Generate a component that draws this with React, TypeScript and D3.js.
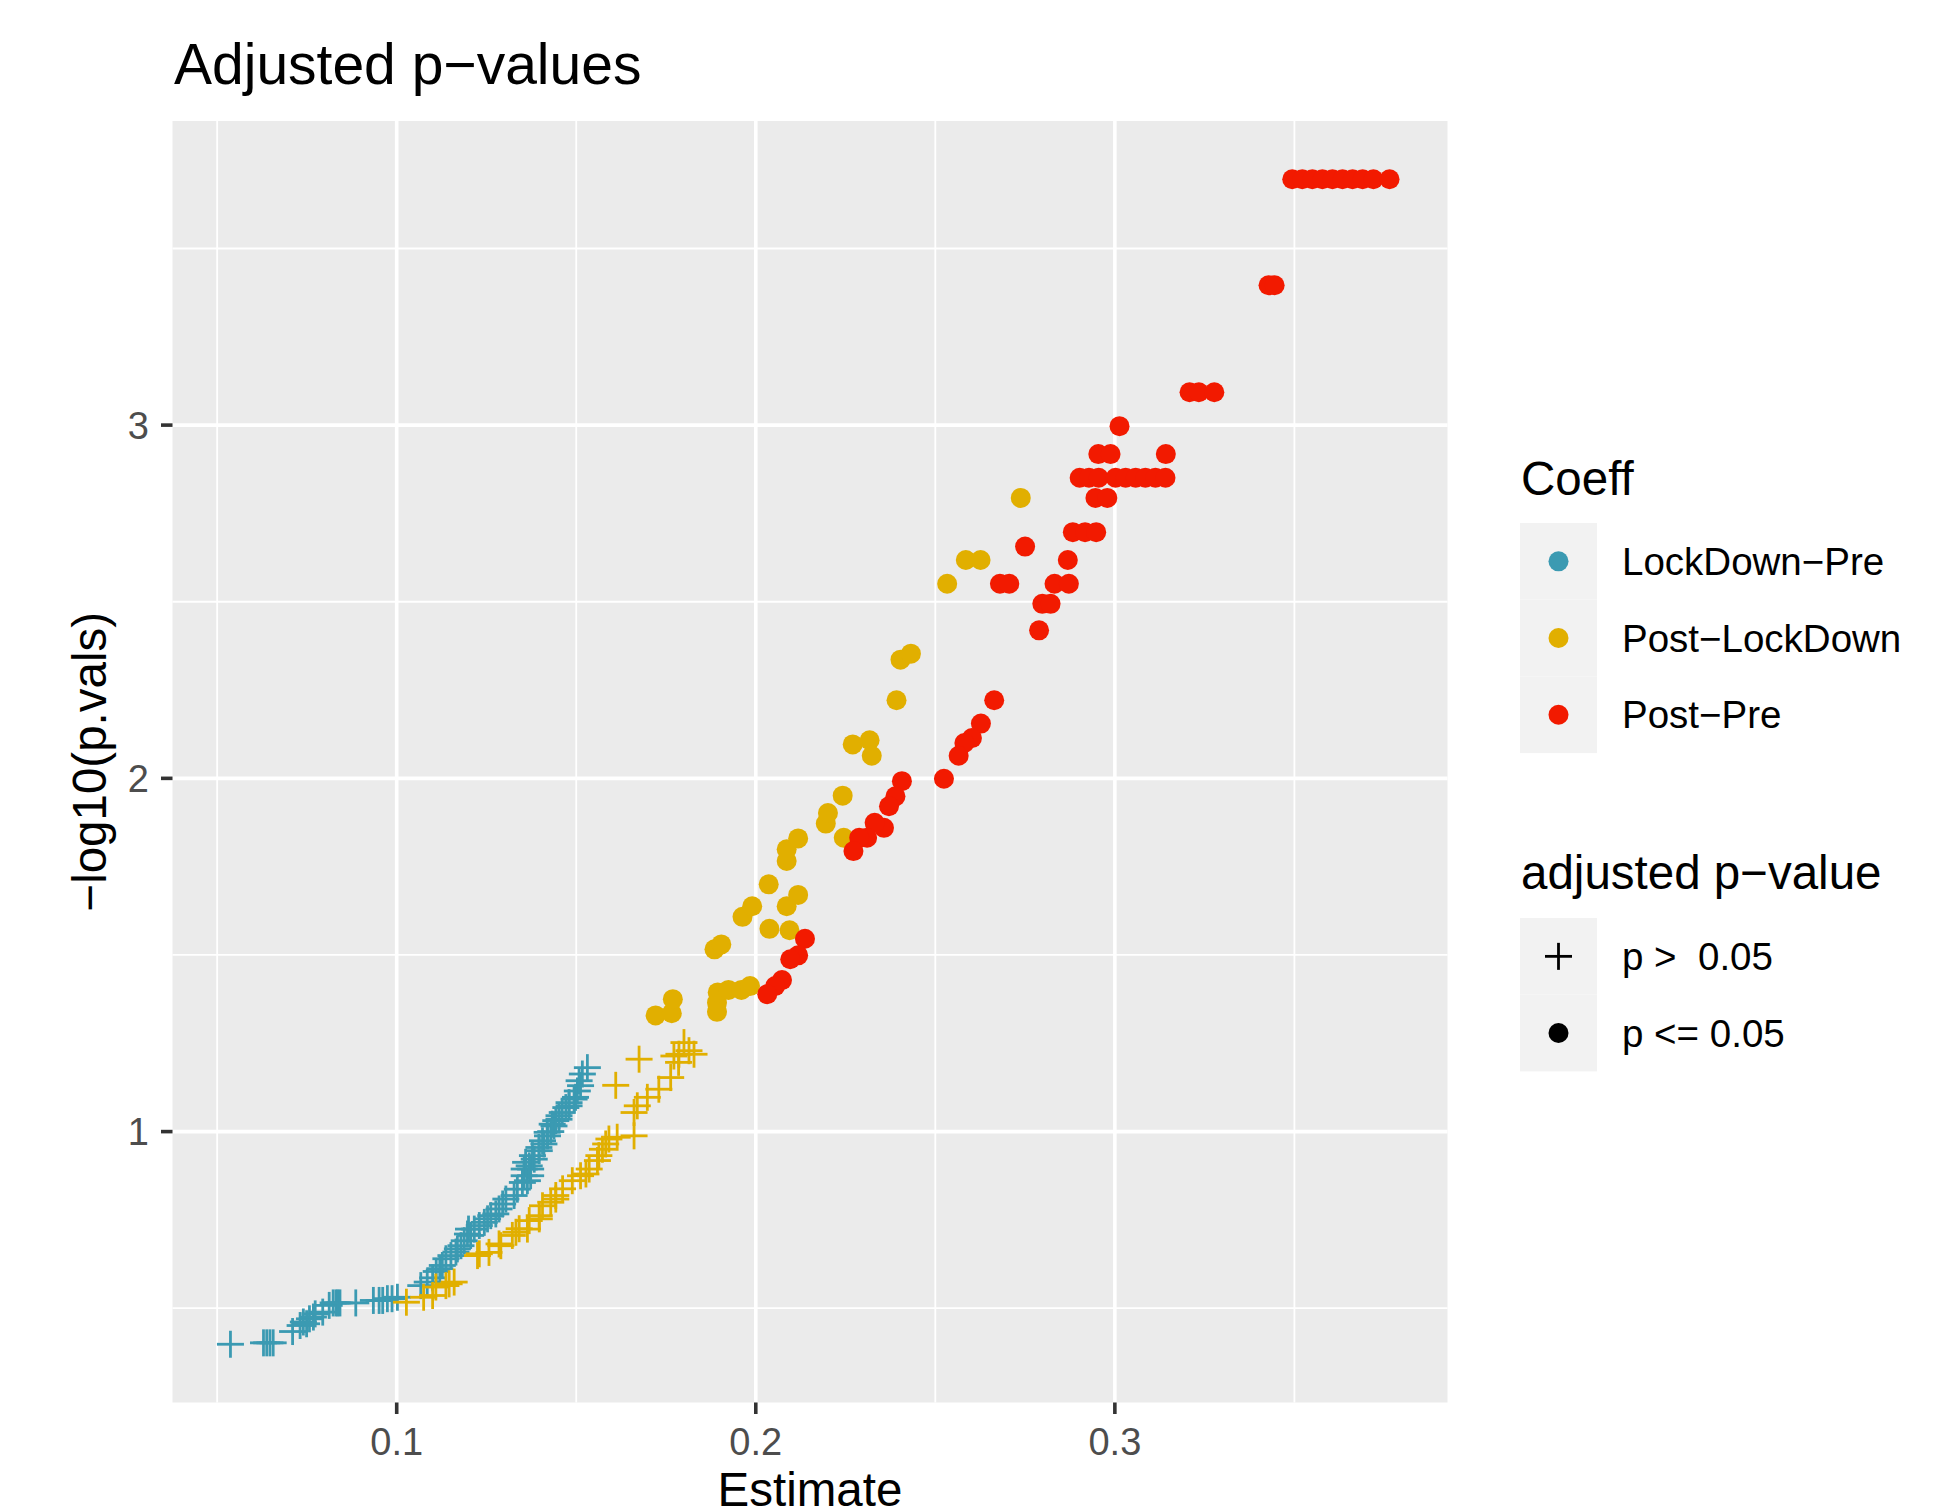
import React from 'react';
import * as d3 from 'd3';

// ---------- data ----------
const categories = ['LockDown−Pre', 'Post−LockDown', 'Post−Pre'];
const categoryColors = ['#3B9AB2', '#E1AF00', '#F21A00'];
const shapeLabels = ['p >  0.05', 'p <= 0.05'];
const xTicks = [0.1, 0.2, 0.3];
const xMinorTicks = [0.05, 0.15, 0.25, 0.35];
const yTicks = [1, 2, 3];
const yMinorTicks = [0.5, 1.5, 2.5, 3.5];
const alpha = 0.05;

// [Estimate, -log10(adjusted p)]
const lockdownPre: [number, number][] = [
  [0.0537, 0.398], [0.0629, 0.402], [0.0638, 0.402], [0.0647, 0.402], [0.0656, 0.402],
  [0.0710, 0.434], [0.0731, 0.451], [0.0740, 0.461], [0.0749, 0.456], [0.0757, 0.470],
  [0.0768, 0.475], [0.0773, 0.484], [0.0794, 0.489], [0.0812, 0.508], [0.0823, 0.515],
  [0.0831, 0.515], [0.0836, 0.515], [0.0842, 0.515], [0.0886, 0.515], [0.0935, 0.522],
  [0.0951, 0.522], [0.0961, 0.522], [0.0974, 0.527], [0.0987, 0.527], [0.1002, 0.531],
  [0.1067, 0.564], [0.1085, 0.574], [0.1100, 0.586], [0.1110, 0.604], [0.1120, 0.612],
  [0.1127, 0.621], [0.1137, 0.640], [0.1151, 0.649], [0.1165, 0.659], [0.1169, 0.668],
  [0.1179, 0.677], [0.1188, 0.691], [0.1197, 0.710], [0.1206, 0.706], [0.1200, 0.724],
  [0.1216, 0.724], [0.1230, 0.734], [0.1244, 0.743], [0.1253, 0.753], [0.1262, 0.762],
  [0.1276, 0.767], [0.1285, 0.781], [0.1295, 0.795], [0.1304, 0.809], [0.1327, 0.819],
  [0.1336, 0.837], [0.1350, 0.856], [0.1364, 0.861], [0.1355, 0.875], [0.1373, 0.875],
  [0.1355, 0.894], [0.1373, 0.894], [0.1369, 0.903], [0.1359, 0.913], [0.1383, 0.922],
  [0.1378, 0.932], [0.1397, 0.946], [0.1396, 0.955], [0.1410, 0.965], [0.1406, 0.974],
  [0.1420, 0.988], [0.1419, 0.998], [0.1429, 1.000], [0.1438, 1.016], [0.1433, 1.021],
  [0.1443, 1.031], [0.1452, 1.035], [0.1452, 1.045], [0.1461, 1.054], [0.1471, 1.068],
  [0.1480, 1.073], [0.1480, 1.082], [0.1494, 1.092], [0.1498, 1.097], [0.1503, 1.115],
  [0.1512, 1.130], [0.1508, 1.144], [0.1517, 1.163], [0.1531, 1.181],
];

const postLockdown: [number, number][] = [
  [0.1027, 0.517], [0.1075, 0.531], [0.1100, 0.536], [0.1109, 0.560], [0.1137, 0.564],
  [0.1146, 0.569], [0.1160, 0.574], [0.1225, 0.649], [0.1230, 0.654], [0.1257, 0.658],
  [0.1290, 0.677], [0.1285, 0.682], [0.1322, 0.706], [0.1332, 0.715], [0.1341, 0.725],
  [0.1364, 0.724], [0.1369, 0.748], [0.1397, 0.753], [0.1397, 0.762], [0.1406, 0.790],
  [0.1429, 0.800], [0.1443, 0.809], [0.1443, 0.819], [0.1462, 0.838], [0.1489, 0.861],
  [0.1512, 0.875], [0.1527, 0.880], [0.1536, 0.894], [0.1559, 0.918], [0.1563, 0.932],
  [0.1573, 0.950], [0.1582, 0.965], [0.1591, 0.979], [0.1614, 0.984], [0.1661, 0.988],
  [0.1661, 1.054], [0.1670, 1.073], [0.1698, 1.097], [0.1730, 1.120], [0.1610, 1.131],
  [0.1763, 1.153], [0.1785, 1.196], [0.1675, 1.205], [0.1772, 1.214], [0.1786, 1.219],
  [0.1828, 1.219], [0.1814, 1.229], [0.1800, 1.252],
  [0.1721, 1.329], [0.1766, 1.335], [0.1769, 1.375], [0.1892, 1.339], [0.1892, 1.365],
  [0.1894, 1.394], [0.1924, 1.401], [0.1960, 1.401], [0.1984, 1.412], [0.1885, 1.516],
  [0.1904, 1.530], [0.2038, 1.574], [0.2094, 1.570], [0.1963, 1.608], [0.1990, 1.638],
  [0.2086, 1.638], [0.2118, 1.670], [0.2036, 1.700], [0.2086, 1.766], [0.2086, 1.799],
  [0.2118, 1.830], [0.2245, 1.832], [0.2195, 1.872], [0.2201, 1.902], [0.2242, 1.951],
  [0.2270, 2.096], [0.2317, 2.108], [0.2323, 2.064], [0.2392, 2.221], [0.2403, 2.336],
  [0.2432, 2.353], [0.2533, 2.551], [0.2585, 2.618], [0.2626, 2.618], [0.2738, 2.794],
];

const postPre: [number, number][] = [
  [0.3494, 3.696], [0.3522, 3.696], [0.3550, 3.696], [0.3578, 3.696], [0.3606, 3.696],
  [0.3634, 3.696], [0.3662, 3.696], [0.3690, 3.696], [0.3720, 3.696], [0.3765, 3.696],
  [0.3428, 3.396], [0.3445, 3.396],
  [0.3208, 3.093], [0.3234, 3.093], [0.3277, 3.093],
  [0.3013, 2.997],
  [0.2954, 2.918], [0.2988, 2.918], [0.3142, 2.918],
  [0.2902, 2.851], [0.2928, 2.851], [0.2955, 2.851], [0.3002, 2.851], [0.3030, 2.851],
  [0.3058, 2.851], [0.3085, 2.851], [0.3113, 2.851], [0.3141, 2.851],
  [0.2946, 2.794], [0.2979, 2.794],
  [0.2883, 2.697], [0.2917, 2.697], [0.2948, 2.697],
  [0.2750, 2.656], [0.2869, 2.618],
  [0.2680, 2.551], [0.2706, 2.551], [0.2832, 2.551], [0.2872, 2.551],
  [0.2798, 2.494], [0.2821, 2.494], [0.2789, 2.419],
  [0.2664, 2.221], [0.2627, 2.155], [0.2602, 2.114], [0.2581, 2.100], [0.2565, 2.064],
  [0.2524, 1.999], [0.2407, 1.992], [0.2389, 1.949], [0.2371, 1.921], [0.2357, 1.860],
  [0.2331, 1.874], [0.2310, 1.832], [0.2288, 1.832], [0.2272, 1.794],
  [0.2137, 1.546], [0.2118, 1.499], [0.2096, 1.488], [0.2073, 1.429], [0.2054, 1.412],
  [0.2032, 1.389],
];

const seriesData = [lockdownPre, postLockdown, postPre];

// ---------- layout ----------
const W = 1960;
const H = 1509;
const panel = { left: 172.5, right: 1447.5, top: 121, bottom: 1402.5 };
const FONT = "'Liberation Sans', Arial, Helvetica, sans-serif";
const R = 10;
const ARM = 13.5;

function expand([a, b]: [number, number], f = 0.05): [number, number] {
  const s = b - a;
  return [a - s * f, b + s * f];
}

export default function App() {
  const all = seriesData.flat();
  const xDom = expand(d3.extent(all, (d) => d[0]) as [number, number]);
  const yDom = expand(d3.extent(all, (d) => d[1]) as [number, number]);
  const x = d3.scaleLinear().domain(xDom).range([panel.left, panel.right]);
  const y = d3.scaleLinear().domain(yDom).range([panel.bottom, panel.top]);
  const thr = -Math.log10(alpha);

  const cross = (cx: number, cy: number, color: string, key: string, sw = 2.8) => (
    <g key={key} stroke={color} strokeWidth={sw} strokeLinecap="butt">
      <line x1={cx - ARM} x2={cx + ARM} y1={cy} y2={cy} />
      <line x1={cx} x2={cx} y1={cy - ARM} y2={cy + ARM} />
    </g>
  );

  const keyW = 77;
  const keyH = 76.7;
  const leg1Top = 523;
  const leg2Top = 918;
  const legX = 1520;

  return (
    <svg
      width={W}
      height={H}
      viewBox={`0 0 ${W} ${H}`}
      style={{ position: 'absolute', left: 0, top: 0, background: '#fff' }}
      fontFamily={FONT}
    >
      <rect x={0} y={0} width={W} height={H} fill="#fff" />
      {/* title */}
      <text x={174} y={84} fontSize={57} fill="#000">Adjusted p−values</text>

      {/* panel */}
      <rect x={panel.left} y={panel.top} width={panel.right - panel.left} height={panel.bottom - panel.top} fill="#EBEBEB" />
      {xMinorTicks.map((t) => (
        <line key={'xm' + t} x1={x(t)} x2={x(t)} y1={panel.top} y2={panel.bottom} stroke="#fff" strokeWidth={1.8} />
      ))}
      {yMinorTicks.map((t) => (
        <line key={'ym' + t} y1={y(t)} y2={y(t)} x1={panel.left} x2={panel.right} stroke="#fff" strokeWidth={1.8} />
      ))}
      {xTicks.map((t) => (
        <line key={'xM' + t} x1={x(t)} x2={x(t)} y1={panel.top} y2={panel.bottom} stroke="#fff" strokeWidth={3.6} />
      ))}
      {yTicks.map((t) => (
        <line key={'yM' + t} y1={y(t)} y2={y(t)} x1={panel.left} x2={panel.right} stroke="#fff" strokeWidth={3.6} />
      ))}

      {/* points */}
      {seriesData.map((ser, si) => (
        <g key={'s' + si}>
          {ser.map((d, i) =>
            d[1] >= thr ? (
              <circle key={i} cx={x(d[0])} cy={y(d[1])} r={R} fill={categoryColors[si]} />
            ) : (
              cross(x(d[0]), y(d[1]), categoryColors[si], 'c' + i)
            )
          )}
        </g>
      ))}

      {/* axes ticks */}
      {xTicks.map((t) => (
        <g key={'xt' + t}>
          <line x1={x(t)} x2={x(t)} y1={panel.bottom} y2={panel.bottom + 11.5} stroke="#333333" strokeWidth={3.6} />
          <text x={x(t)} y={1455} fontSize={38} fill="#4D4D4D" textAnchor="middle">{String(t)}</text>
        </g>
      ))}
      {yTicks.map((t) => (
        <g key={'yt' + t}>
          <line x1={panel.left - 11.5} x2={panel.left} y1={y(t)} y2={y(t)} stroke="#333333" strokeWidth={3.6} />
          <text x={149} y={y(t) + 13.6} fontSize={38} fill="#4D4D4D" textAnchor="end">{String(t)}</text>
        </g>
      ))}

      {/* axis titles */}
      <text x={(panel.left + panel.right) / 2} y={1506} fontSize={47.5} fill="#000" textAnchor="middle">Estimate</text>
      <text
        transform={`translate(106, ${(panel.top + panel.bottom) / 2}) rotate(-90)`}
        fontSize={47.5}
        fill="#000"
        textAnchor="middle"
      >
        −log10(p.vals)
      </text>

      {/* legend 1 */}
      <text x={1521} y={495} fontSize={47.5} fill="#000">Coeff</text>
      {categories.map((c, i) => {
        const cy = leg1Top + keyH * (i + 0.5);
        return (
          <g key={'l1' + i}>
            <rect x={legX} y={leg1Top + keyH * i} width={keyW} height={keyH} fill="#F2F2F2" />
            <circle cx={legX + keyW / 2} cy={cy} r={R} fill={categoryColors[i]} />
            <text x={1622} y={cy + 13.6} fontSize={38.5} fill="#000">{c}</text>
          </g>
        );
      })}

      {/* legend 2 */}
      <text x={1521} y={889} fontSize={47.5} fill="#000">adjusted p−value</text>
      {shapeLabels.map((c, i) => {
        const cy = leg2Top + keyH * (i + 0.5);
        return (
          <g key={'l2' + i}>
            <rect x={legX} y={leg2Top + keyH * i} width={keyW} height={keyH} fill="#F2F2F2" />
            {i === 0 ? cross(legX + keyW / 2, cy, '#000', 'lc') : <circle cx={legX + keyW / 2} cy={cy} r={R} fill="#000" />}
            <text x={1622} y={cy + 13.6} fontSize={38.5} fill="#000" style={{ whiteSpace: 'pre' }}>{c}</text>
          </g>
        );
      })}
    </svg>
  );
}
